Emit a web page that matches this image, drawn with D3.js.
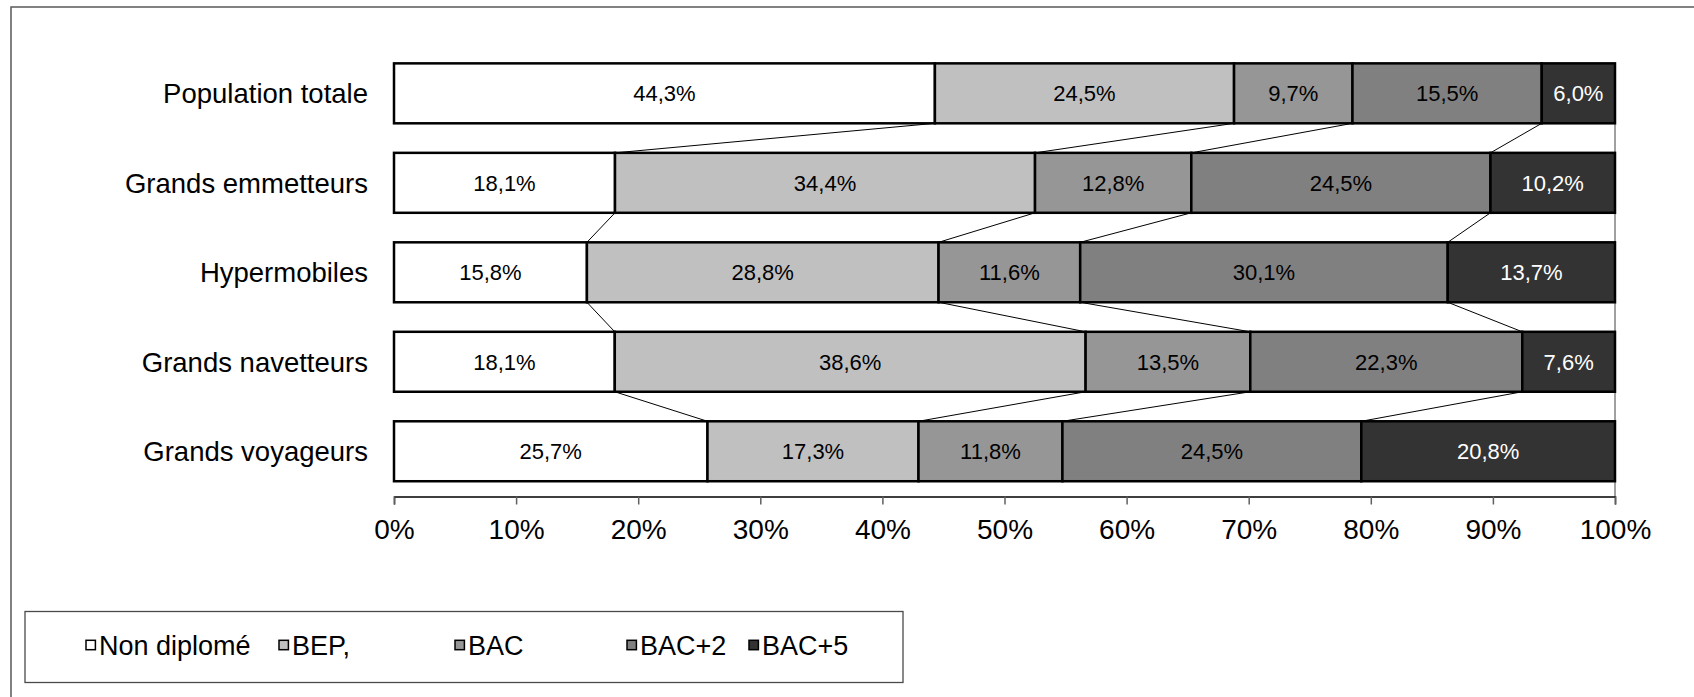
<!DOCTYPE html>
<html>
<head>
<meta charset="utf-8">
<script src="https://cdn.jsdelivr.net/npm/d3@7"></script>
<style>
  html, body { margin: 0; padding: 0; background: #fff; }
  svg { display: block; font-family: "Liberation Sans", Arial, sans-serif; }
</style>
</head>
<body>
<svg id="chart" width="1694" height="697"></svg>
<script>
// Categories (top to bottom) and the share of each diploma level, in %
const categories = ["Population totale", "Grands emmetteurs", "Hypermobiles", "Grands navetteurs", "Grands voyageurs"];
const seriesNames = ["Non diplomé", "BEP,", "BAC", "BAC+2", "BAC+5"];
const nonDiplome = [44.3, 18.1, 15.8, 18.1, 25.7];
const bep        = [24.5, 34.4, 28.8, 38.6, 17.3];
const bac        = [9.7, 12.8, 11.6, 13.5, 11.8];
const bac2       = [15.5, 24.5, 30.1, 22.3, 24.5];
const bac5       = [6.0, 10.2, 13.7, 7.6, 20.8];
const tickValues = [0, 0.1, 0.2, 0.3, 0.4, 0.5, 0.6, 0.7, 0.8, 0.9, 1];

const seriesValues = [nonDiplome, bep, bac, bac2, bac5];
const fills = ["#ffffff", "#c0c0c0", "#969696", "#808080", "#333333"];
const labelColors = ["#000", "#000", "#000", "#000", "#fff"];

const rows = categories.map((c, i) => {
  const r = { category: c };
  seriesNames.forEach((s, k) => { r[s] = seriesValues[k][i]; });
  return r;
});

// 100% stacked layout
const stacked = d3.stack().keys(seriesNames).offset(d3.stackOffsetExpand)(rows);

const svg = d3.select("#chart");

const x = d3.scaleLinear().domain([0, 1]).range([394, 1615]);
const y = d3.scaleBand().domain(categories).range([48.6, 496])
  .paddingInner(0.33).paddingOuter(0.165);

const fmt = v => d3.format(".1f")(v).replace(".", ",") + "%";

// Chart frame
svg.append("rect")
  .attr("x", 11).attr("y", 7).attr("width", 1700).attr("height", 700)
  .attr("fill", "none").attr("stroke", "#5a5a5a").attr("stroke-width", 1.5);

// Right edge of the plot area
svg.append("line")
  .attr("x1", x(1)).attr("x2", x(1))
  .attr("y1", y(categories[0])).attr("y2", 496.5)
  .attr("stroke", "#808080").attr("stroke-width", 1.5);

// Series lines joining the segment boundaries of consecutive bars
const joins = svg.append("g").attr("stroke", "#000").attr("stroke-width", 1);
stacked.slice(0, -1).forEach(layer => {
  for (let i = 0; i < categories.length - 1; i++) {
    joins.append("line")
      .attr("x1", x(layer[i][1]))
      .attr("y1", y(categories[i]) + y.bandwidth())
      .attr("x2", x(layer[i + 1][1]))
      .attr("y2", y(categories[i + 1]));
  }
});

// Bars
const layers = svg.append("g").selectAll("g").data(stacked).join("g")
  .attr("fill", (d, k) => fills[k]);

layers.selectAll("rect").data(d => d).join("rect")
  .attr("x", d => x(d[0]))
  .attr("y", d => y(d.data.category))
  .attr("width", d => x(d[1]) - x(d[0]))
  .attr("height", y.bandwidth())
  .attr("stroke", "#000").attr("stroke-width", 2.5);

// Value labels
stacked.forEach((layer, k) => {
  svg.append("g").selectAll("text").data(layer).join("text")
    .attr("x", d => (x(d[0]) + x(d[1])) / 2)
    .attr("y", d => y(d.data.category) + y.bandwidth() / 2)
    .attr("dy", "0.36em")
    .attr("text-anchor", "middle")
    .attr("font-size", 22)
    .attr("fill", labelColors[k])
    .text(d => fmt(d.data[layer.key]));
});

// Category labels
svg.append("g").selectAll("text").data(categories).join("text")
  .attr("x", 368)
  .attr("y", d => y(d) + y.bandwidth() / 2)
  .attr("dy", "0.36em")
  .attr("text-anchor", "end")
  .attr("font-size", 27.5)
  .attr("fill", "#000")
  .text(d => d);

// Horizontal axis
const axis = svg.append("g").attr("transform", "translate(0,496.5)")
  .call(d3.axisBottom(x).tickValues(tickValues).tickFormat(d3.format(".0%"))
    .tickSize(8).tickPadding(15));
axis.select(".domain").attr("stroke", "#000").attr("stroke-width", 1.5);
axis.selectAll(".tick line").attr("stroke", "#606060").attr("stroke-width", 1.5);
axis.selectAll(".tick text").attr("font-size", 28).attr("fill", "#000")
  .attr("font-family", "Liberation Sans, Arial, sans-serif");

// Legend
const legend = svg.append("g");
legend.append("rect")
  .attr("x", 25).attr("y", 611.5).attr("width", 878).attr("height", 71)
  .attr("fill", "#fff").attr("stroke", "#4a4a4a").attr("stroke-width", 1.3);
const legendX = [86, 279, 455, 627, 749];
const items = legend.selectAll("g.item").data(seriesNames).join("g")
  .attr("class", "item")
  .attr("transform", (d, k) => `translate(${legendX[k]},645)`);
items.append("rect")
  .attr("x", 0).attr("y", -4.7).attr("width", 9.4).attr("height", 9.4)
  .attr("fill", (d, k) => fills[k]).attr("stroke", "#000").attr("stroke-width", 1.5);
items.append("text")
  .attr("x", 13).attr("y", 0).attr("dy", "0.36em")
  .attr("font-size", 27).attr("fill", "#000")
  .text(d => d);
</script>
</body>
</html>
